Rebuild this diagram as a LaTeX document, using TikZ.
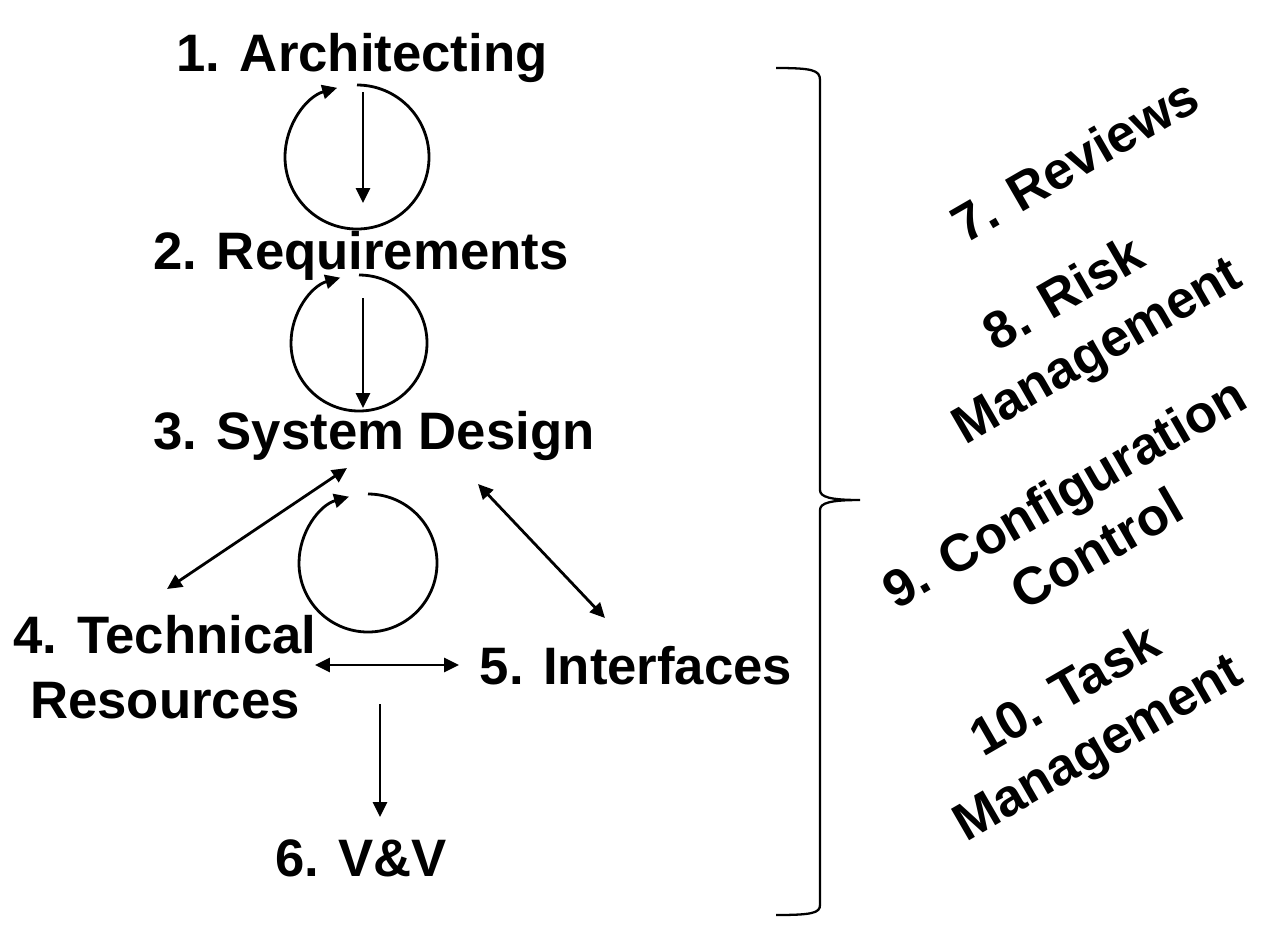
\documentclass[tikz,border=0pt]{standalone}
\usepackage{fontspec}
\setmainfont{Liberation Sans}
\usetikzlibrary{arrows.meta}
\tikzset{
	lbl/.style={font=\fontsize{30}{37}\selectfont\bfseries, inner sep=0pt, align=center},
	arr/.style={line width=1.6pt, -{Triangle[length=8.5pt, width=8pt]}},
	dblarr/.style={line width=1.6pt, {Triangle[length=8.5pt, width=8pt]}-{Triangle[length=8.5pt, width=8pt]}},
	loop/.style={line width=1.6pt, -{Triangle[length=8.5pt, width=8pt]}},
	brace/.style={line width=1.3pt}
}

\begin{document}
\begin{tikzpicture}[x=0.02cm, y=-0.02cm]
			%%%%% START %%%%%
			\useasboundingbox (0, 0) rectangle (1274, 938);
			
			\node[lbl, anchor=base] (arch) at (362, 71) {1. Architecting};
			\node[lbl, anchor=base] (req) at (361, 269) {2. Requirements};
			\node[lbl, anchor=base] (sysd) at (374, 449) {3. System Design};
			\node[lbl] (tech) at (165, 667) {4. Technical\\Resources};
			\node[lbl, anchor=base] (intf) at (636, 684) {5. Interfaces};
			\node[lbl, anchor=base] (vv) at (361, 876) {6. V\&V};
			
			% loops
			\draw[loop] (357, 85) arc (-90:254:72);
			\draw[loop] (359, 275) arc (-90:254:68);
			\draw[loop] (368, 494) arc (-90:254:69);
			
			% arrow ends
			\coordinate (archout) at (363, 92);
			\coordinate (reqin) at (363, 203);
			\coordinate (reqout) at (363, 298);
			\coordinate (sysdin) at (363, 408);
			\coordinate (sysdl) at (347, 468);
			\coordinate (techr) at (167, 589);
			\coordinate (sysdr) at (478, 484);
			\coordinate (intfl) at (605, 618);
			\coordinate (teche) at (315, 665);
			\coordinate (intfw) at (459, 665);
			\coordinate (techout) at (380, 704);
			\coordinate (vvin) at (380, 817);
			
			\draw[arr] (archout) -- (reqin);
			\draw[arr] (reqout) -- (sysdin);
			\draw[dblarr] (techr) -- (sysdl);
			\draw[dblarr] (sysdr) -- (intfl);
			\draw[dblarr] (teche) -- (intfw);
			\draw[arr] (techout) -- (vvin);
			
			% brace
			\draw[brace] (776, 68) .. controls (812, 68) and (820, 70) .. (820, 80) -- (820, 490)
				.. controls (820, 497) and (830, 500) .. (860, 500)
				.. controls (830, 500) and (820, 503) .. (820, 510) -- (820, 905)
				.. controls (820, 913) and (812, 915) .. (776, 915);
			
			\node[lbl, rotate=30] (rev) at (1075, 160) {7. Reviews};
			\node[lbl, rotate=30] (risk) at (1082, 325) {8. Risk\\Management};
			\node[lbl, rotate=30] (conf) at (1080, 520) {9. Configuration\\Control};
			\node[lbl, rotate=30] (task) at (1083, 722) {10. Task\\Management};
			
			%%%%% END %%%%%
\end{tikzpicture}
\end{document}
